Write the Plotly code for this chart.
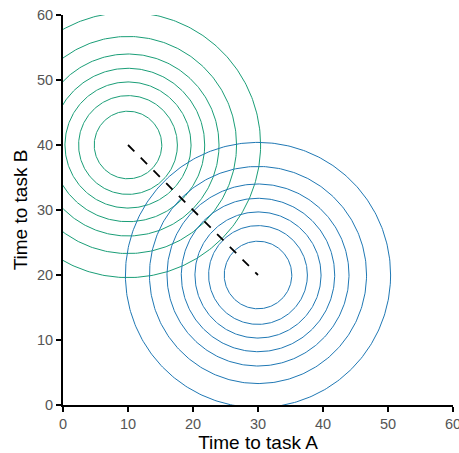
import numpy as np
import plotly.graph_objects as go

# Data
radii = [5.2, 7.6, 9.7, 11.8, 14.0, 16.7, 20.4]
center_a = (10, 40)   # green distribution
center_b = (30, 20)   # blue distribution
line_x = [10, 30]
line_y = [40, 20]
tick_vals = [0, 10, 20, 30, 40, 50, 60]

green = "#1a9e77"
blue = "#1f78b4"

theta = np.linspace(0, 2 * np.pi, 361)
fig = go.Figure()
for (cx, cy), col in [(center_a, green), (center_b, blue)]:
    for r in radii:
        fig.add_trace(go.Scatter(
            x=cx + r * np.cos(theta), y=cy + r * np.sin(theta),
            mode="lines", line=dict(color=col, width=1),
            showlegend=False, hoverinfo="skip"))

fig.add_trace(go.Scatter(x=line_x, y=line_y, mode="lines",
                         line=dict(color="black", width=1.8, dash="dash"),
                         showlegend=False))

axis_common = dict(
    range=[0, 60], tickvals=tick_vals, showgrid=False, zeroline=False,
    showline=True, linecolor="black", linewidth=2,
    ticks="outside", ticklen=5, tickwidth=1.5, tickcolor="black",
    ticklabeloverflow="allow", automargin=False,
    tickfont=dict(family="Liberation Sans, Arial", size=14.5, color="#555555"),
)
fig.update_xaxes(**axis_common,
                 title=dict(text="Time to task A", standoff=5,
                            font=dict(family="Liberation Sans, Arial", size=19, color="black")))
fig.update_yaxes(**axis_common,
                 title=dict(text="Time to task B", standoff=4,
                            font=dict(family="Liberation Sans, Arial", size=19, color="black")))

fig.update_layout(
    width=459, height=453,
    margin=dict(l=63, r=6, t=15, b=48),
    plot_bgcolor="white", paper_bgcolor="white",
)
fig.write_html("out.html")
